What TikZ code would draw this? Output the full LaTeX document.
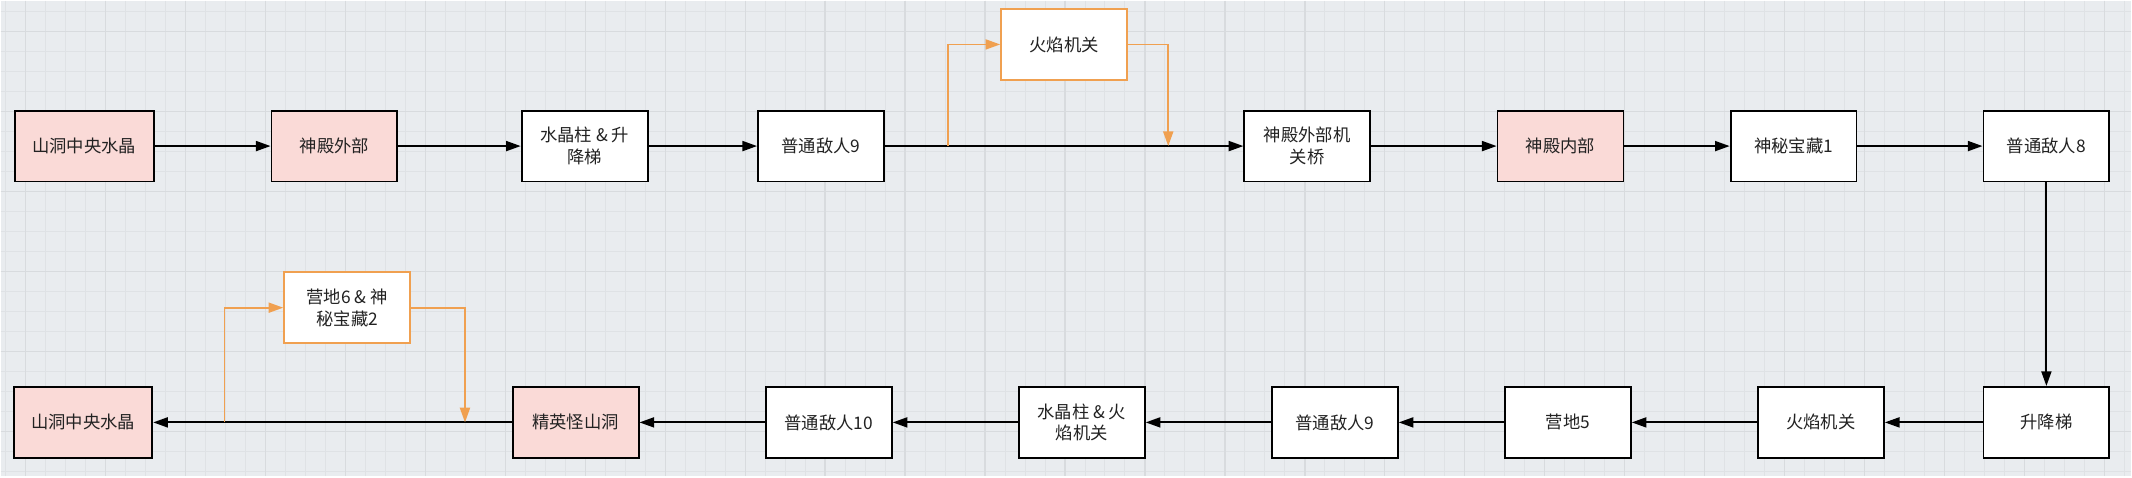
\documentclass[tikz,border=0pt]{standalone}
\usepackage{fontspec}
\setmainfont{Noto Sans CJK SC}
\usetikzlibrary{arrows.meta}

\definecolor{bgcol}{RGB}{233,236,239}
\definecolor{gridminor}{RGB}{223,226,229}
\definecolor{gridmajor}{RGB}{216,219,222}
\definecolor{pinkfill}{RGB}{250,218,215}
\definecolor{orangeline}{RGB}{240,160,80}
\definecolor{textcol}{RGB}{34,34,34}

\tikzset{every picture/.style={line width=0.75pt}}
\tikzset{
  stepbox/.style={draw=black, fill=white, line width=1.4pt, minimum width=94.5pt, minimum height=53.25pt,
    align=center, inner sep=2pt, text=textcol, font=\fontsize{13}{16.3}\selectfont},
  areabox/.style={stepbox, fill=pinkfill},
  sidebox/.style={stepbox, draw=orangeline},
  flow/.style={draw=black, line width=1.4pt, -{Triangle[length=11pt,width=7.5pt]}},
  sideflow/.style={flow, draw=orangeline}
}

\begin{document}
\begin{tikzpicture}[x=0.75pt,y=0.75pt,yscale=-1,xscale=1]
%Background with grid
\fill[bgcol] (0,0) rectangle (2132,476);
\foreach \gx in {5,25,...,2125} \draw[gridminor] (\gx,0) -- (\gx,476);
\foreach \gy in {11,31,...,471} \draw[gridminor] (0,\gy) -- (2132,\gy);
\foreach \gx in {25,105,...,2105} \draw[gridmajor, line width=1pt] (\gx,0) -- (\gx,476);
\foreach \gy in {31,111,...,431} \draw[gridmajor, line width=1pt] (0,\gy) -- (2132,\gy);

%Shape: Top row
\node[areabox, minimum width=104.5pt] (crystA) at (83.6,145.5) {山洞中央水晶};
\node[areabox] (templeOut) at (334,145.5) {神殿外部};
\node[stepbox] (pillarLift) at (584.3,145.5) {水晶柱 \& 升\\降梯};
\node[stepbox] (enemyNineA) at (820.8,145.5) {普通敌人9};
\node[stepbox] (bridge) at (1307.4,145.5) {神殿外部机\\关桥};
\node[areabox] (templeIn) at (1560.8,145.5) {神殿内部};
\node[stepbox] (treasureOne) at (1794,145.5) {神秘宝藏1};
\node[stepbox] (enemyEight) at (2047,145.5) {普通敌人8};
%Shape: Side box top
\node[sidebox] (flameTop) at (1064.1,43.8) {火焰机关};

%Shape: Bottom row
\node[stepbox] (lift) at (2047,422) {升降梯};
\node[stepbox] (flameB) at (1821.4,422) {火焰机关};
\node[stepbox] (campFive) at (1568.2,422) {营地5};
\node[stepbox] (enemyNineB) at (1335,422) {普通敌人9};
\node[stepbox] (pillarFlame) at (1081.8,422) {水晶柱 \& 火\\焰机关};
\node[stepbox] (enemyTen) at (828.7,422) {普通敌人10};
\node[areabox] (elite) at (575.3,422) {精英怪山洞};
\node[areabox, minimum width=103.5pt] (crystB) at (82.7,422) {山洞中央水晶};
%Shape: Side box bottom
\node[sidebox] (campSix) at (346.7,307.2) {营地6 \& 神\\秘宝藏2};

%Branch points
\coordinate (forkA) at (948,145.5);
\coordinate (joinA) at (1168.3,145.5);
\coordinate (forkB) at (224,422);
\coordinate (joinB) at (464.6,422);

%Arrows top row
\draw[flow] (crystA) -- (templeOut);
\draw[flow] (templeOut) -- (pillarLift);
\draw[flow] (pillarLift) -- (enemyNineA);
\draw[flow] (enemyNineA) -- (bridge);
\draw[flow] (bridge) -- (templeIn);
\draw[flow] (templeIn) -- (treasureOne);
\draw[flow] (treasureOne) -- (enemyEight);
%Arrow down
\draw[flow] (enemyEight) -- (lift);
%Arrows bottom row
\draw[flow] (lift) -- (flameB);
\draw[flow] (flameB) -- (campFive);
\draw[flow] (campFive) -- (enemyNineB);
\draw[flow] (enemyNineB) -- (pillarFlame);
\draw[flow] (pillarFlame) -- (enemyTen);
\draw[flow] (enemyTen) -- (elite);
\draw[flow] (elite) -- (crystB);

%Orange side arrows
\draw[sideflow] (forkA) |- (flameTop);
\draw[sideflow] (flameTop) -| (joinA);
\draw[sideflow] (forkB) |- (campSix);
\draw[sideflow] (campSix) -| (joinB);

\end{tikzpicture}
\end{document}
